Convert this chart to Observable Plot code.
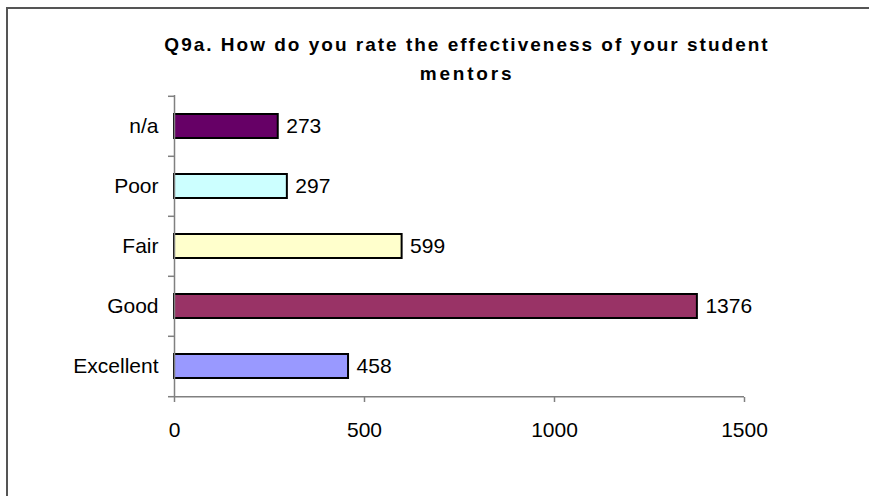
<!DOCTYPE html>
<html>
<head>
<meta charset="utf-8">
<script src="https://cdn.jsdelivr.net/npm/d3@7"></script>
<script src="https://cdn.jsdelivr.net/npm/@observablehq/plot@0.6"></script>
<style>
  html, body { margin: 0; padding: 0; background: #fff; }
  body { width: 869px; height: 496px; position: relative; overflow: hidden; font-family: "Liberation Sans", Arial, sans-serif; }
  #frame { position: absolute; left: 6px; top: 7px; width: 900px; height: 600px; border-left: 2px solid #555; border-top: 2px solid #555; box-sizing: border-box; }
  .title { position: absolute; left: 67px; width: 800px; text-align: center; font-weight: bold; font-size: 19px; line-height: 22px; color: #000; white-space: nowrap; }
  #t1 { top: 34px; letter-spacing: 2px; }
  #t2 { top: 63px; letter-spacing: 2.8px; }
  #chart { position: absolute; left: 0; top: 0; }
</style>
</head>
<body>
<div id="frame"></div>
<div id="chart"></div>
<div class="title" id="t1">Q9a. How do you rate the effectiveness of your student</div>
<div class="title" id="t2">mentors</div>
<script>
const categories = ["n/a", "Poor", "Fair", "Good", "Excellent"];
const values = [273, 297, 599, 1376, 458];
const colors = ["#660066", "#CCFFFF", "#FFFFCC", "#993366", "#9999FF"];
const xTicks = [0, 500, 1000, 1500];

const data = categories.map((c, i) => ({category: c, value: values[i], color: colors[i]}));

const W = 869, H = 496;
const mTop = 95, mBottom = 99, mLeft = 174, mRight = 125;
const step = (H - mTop - mBottom) / categories.length;
const fontSize = 21;

const chart = Plot.plot({
  width: W,
  height: H,
  marginTop: mTop,
  marginBottom: mBottom,
  marginLeft: mLeft,
  marginRight: mRight,
  style: {fontFamily: "'Liberation Sans', Arial, sans-serif", fontSize: fontSize + "px", color: "#000", background: "transparent", overflow: "visible"},
  x: {domain: [0, 1500], ticks: xTicks},
  y: {domain: categories, paddingInner: 0.6, paddingOuter: 0.3},
  marks: [
    Plot.barX(data, {x: "value", y: "category", fill: "color", stroke: "#000", strokeWidth: 2}),
    Plot.text(data, {x: "value", y: "category", text: d => String(d.value), textAnchor: "start", dx: 8, fontSize: fontSize, fill: "#000"}),
    Plot.ruleX([0], {stroke: "#808080", strokeWidth: 1.5}),
    Plot.ruleY([categories[categories.length - 1]], {dy: step / 2, stroke: "#808080", strokeWidth: 1.5}),
    Plot.axisY({tickSize: 0, tickPadding: 16, fontSize: fontSize, label: null, fill: "#000"}),
    Plot.axisY({tickSize: 6, dy: -step / 2, tickFormat: () => "", label: null, stroke: "#808080", strokeWidth: 1.5}),
    Plot.axisY([categories[categories.length - 1]], {tickSize: 6, dy: step / 2, tickFormat: () => "", label: null, stroke: "#808080", strokeWidth: 1.5}),
    Plot.axisX({ticks: xTicks, tickFormat: d => String(d), tickSize: 5, tickPadding: 20, fontSize: fontSize, label: null, stroke: "#808080", strokeWidth: 1.5, fill: "#000"})
  ]
});
document.getElementById("chart").appendChild(chart);
</script>
</body>
</html>
